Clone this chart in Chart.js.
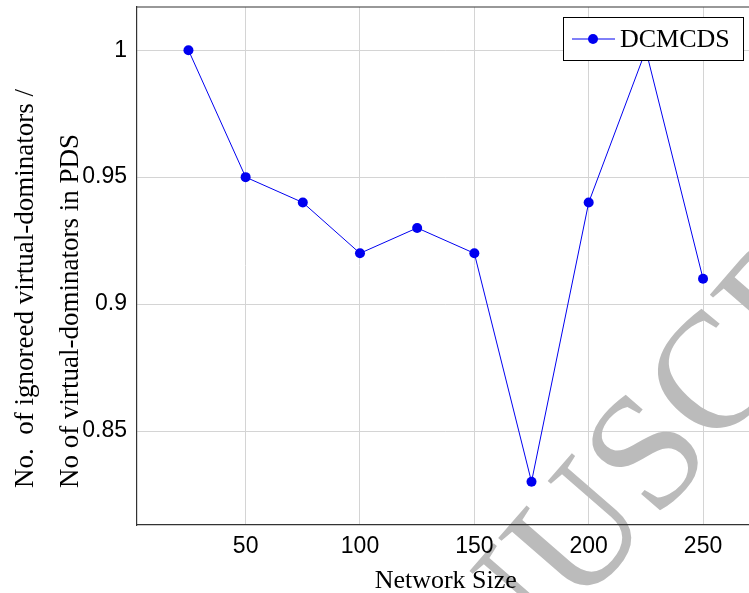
<!DOCTYPE html>
<html>
<head>
<meta charset="utf-8">
<script src="https://cdn.jsdelivr.net/npm/chart.js@4.4.1/dist/chart.umd.min.js"></script>
<style>
  html, body { margin: 0; padding: 0; background: #fff; overflow: hidden; }
  #wrap { width: 760px; height: 593px; }
</style>
</head>
<body>
<div id="wrap"><canvas id="ratioChart" width="760" height="593"></canvas></div>
<script>
// values
const networkSizes = [25, 50, 75, 100, 125, 150, 175, 200, 225, 250];
const ignoredRatio = [1.0, 0.95, 0.94, 0.92, 0.93, 0.92, 0.83, 0.94, 1.0, 0.91];
const xTicks = [50, 100, 150, 200, 250];
const yTicks = [0.85, 0.9, 0.95, 1];
const seriesName = 'DCMCDS';
const yTitleLines = ['No.  of ignoreed virtual-dominators /', 'No of virtual-dominators in PDS'];

const blue = 'rgb(0, 0, 240)';
const axisFont = { family: 'Liberation Sans', size: 23 };
const serif = 'Liberation Serif';

// top frame line (pgfplots box axis)
const frame = {
    id: 'frame',
    afterDraw(chart) {
        const { ctx, chartArea } = chart;
        ctx.save();
        ctx.strokeStyle = '#333';
        ctx.lineWidth = 1.2;
        ctx.beginPath();
        ctx.moveTo(chartArea.left, chartArea.top);
        ctx.lineTo(chartArea.right, chartArea.top);
        ctx.stroke();
        ctx.restore();
    }
};

// two-line y label, left aligned from the bottom like the original
const yTitle = {
    id: 'yTitle',
    afterDraw(chart) {
        const ctx = chart.ctx;
        ctx.save();
        ctx.fillStyle = '#000';
        ctx.font = '27px "' + serif + '"';
        ctx.textAlign = 'left';
        ctx.textBaseline = 'alphabetic';
        yTitleLines.forEach((line, i) => {
            ctx.save();
            ctx.translate(33 + i * 45, 488);
            ctx.rotate(-Math.PI / 2);
            ctx.fillText(line, 0, 0);
            ctx.restore();
        });
        ctx.restore();
    }
};

// boxed legend like the original
const boxLegend = {
    id: 'boxLegend',
    afterDraw(chart) {
        const ctx = chart.ctx;
        ctx.save();
        ctx.fillStyle = '#fff';
        ctx.fillRect(563, 17, 180, 43);
        ctx.strokeStyle = '#000';
        ctx.lineWidth = 1;
        ctx.strokeRect(563.5, 17.5, 180, 43);
        ctx.strokeStyle = blue;
        ctx.beginPath();
        ctx.moveTo(572, 39);
        ctx.lineTo(615, 39);
        ctx.stroke();
        ctx.fillStyle = blue;
        ctx.beginPath();
        ctx.arc(593, 39, 5, 0, Math.PI * 2);
        ctx.fill();
        ctx.fillStyle = '#000';
        ctx.font = '26px "' + serif + '"';
        ctx.textBaseline = 'middle';
        ctx.fillText(seriesName, 620, 40);
        ctx.restore();
    }
};

// grey diagonal watermark of the source page
const watermark = {
    id: 'watermark',
    afterDatasetsDraw(chart) {
        const ctx = chart.ctx;
        ctx.save();
        ctx.globalCompositeOperation = 'darken';
        ctx.translate(325, 902);
        ctx.rotate(-49 * Math.PI / 180);
        ctx.font = '165px "' + serif + '"';
        ctx.fillStyle = '#bbbbbb';
        ctx.textBaseline = 'alphabetic';
        ctx.fillText('MANUSCRIPT', 0, 0);
        ctx.restore();
    }
};

const ctx = document.getElementById('ratioChart').getContext('2d');
const myChart = new Chart(ctx, {
    type: 'line',
    data: {
        datasets: [{
            label: seriesName,
            data: networkSizes.map((x, i) => ({ x: x, y: ignoredRatio[i] })),
            borderColor: blue,
            backgroundColor: blue,
            borderWidth: 1,
            pointRadius: 5,
            pointBackgroundColor: blue,
            pointBorderWidth: 0,
            tension: 0,
        }],
    },
    options: {
        responsive: false,
        animation: false,
        layout: { padding: { top: 7, right: 5.5, left: 0, bottom: 0 } },
        plugins: {
            legend: { display: false },
            tooltip: { enabled: false },
        },
        scales: {
            x: {
                type: 'linear',
                min: 2.5,
                max: 272.5,
                afterBuildTicks: (scale) => { scale.ticks = xTicks.map(v => ({ value: v })); },
                afterFit: (scale) => {
                    scale.height = 68;
                    scale.paddingLeft = 0;
                    scale.paddingRight = 0;
                },
                grid: { color: '#d4d4d4', drawTicks: false },
                border: { color: '#333', width: 1.2 },
                ticks: { color: '#000', font: axisFont, padding: 8 },
                title: {
                    display: true,
                    text: 'Network Size',
                    color: '#000',
                    font: { family: serif, size: 26 },
                    padding: { top: 0, bottom: -4 },
                },
            },
            y: {
                type: 'linear',
                min: 0.813,
                max: 1.017,
                afterBuildTicks: (scale) => { scale.ticks = yTicks.map(v => ({ value: v })); },
                afterFit: (scale) => {
                    scale.width = 137;
                    scale.paddingTop = 0;
                    scale.paddingBottom = 0;
                },
                grid: { color: '#d4d4d4', drawTicks: false },
                border: { color: '#333', width: 1.2 },
                ticks: {
                    color: '#000',
                    font: axisFont,
                    padding: 10,
                    callback: (value) => String(Number(value.toFixed(2))),
                },
            },
        },
    },
    plugins: [frame, watermark, yTitle, boxLegend],
});
</script>
</body>
</html>
